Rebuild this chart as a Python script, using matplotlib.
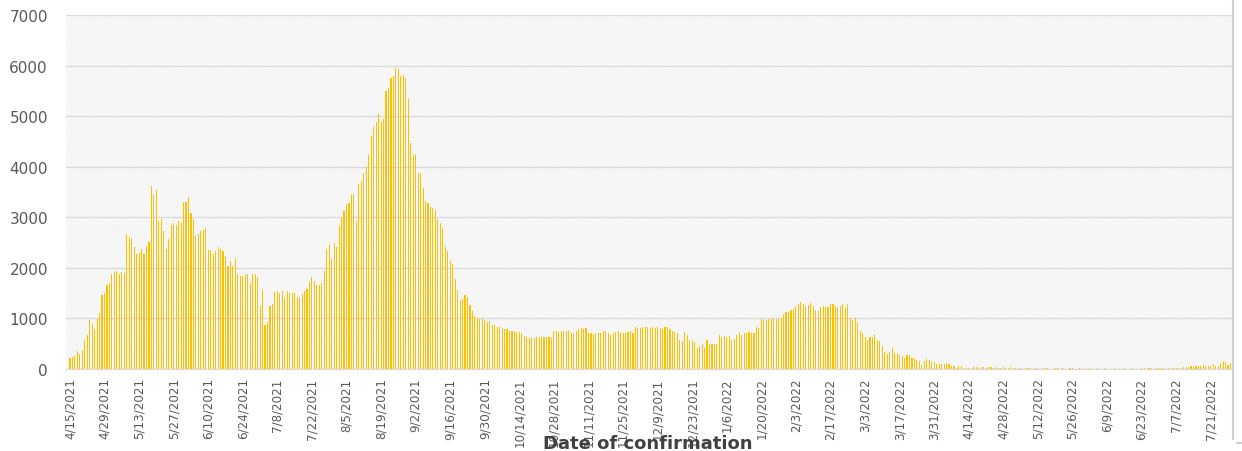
import matplotlib.pyplot as plt
import matplotlib.lines as mlines
import numpy as np
import pandas as pd

# daily confirmed cases, one value per day starting at start_date
start_date = '2021-04-15'

cases_apr_jul_2021 = [
    210, 230, 260, 355, 300, 380, 570, 680, 960, 890,
    790, 990, 1100, 1460, 1510, 1660, 1710, 1880, 1910, 1930,
    1875, 1910, 1890, 2660, 2620, 2570, 2420, 2270, 2290, 2380,
    2270, 2430, 2510, 3620, 3450, 3530, 2930, 2960, 2730, 2370,
    2580, 2840, 2880, 2840, 2920, 2890, 3300, 3300, 3410, 3090,
    2960, 2630, 2670, 2730, 2750, 2790, 2360, 2360, 2270, 2340,
    2420, 2370, 2340, 2240, 2040, 2130, 2040, 2180, 1875, 1840,
    1830, 1855, 1880, 1710, 1870, 1870, 1810, 1250, 1570, 870,
    920, 1250, 1280, 1530, 1550, 1510, 1550, 1410, 1540, 1500,
]

cases_jul_oct_2021 = [
    1500, 1510, 1430, 1410, 1480, 1540, 1590, 1720, 1810, 1740,
    1670, 1660, 1700, 1940, 2370, 2460, 2170, 2500, 2420, 2820,
    2990, 3120, 3260, 3290, 3450, 3470, 2930, 3650, 3720, 3870,
    3990, 4240, 4610, 4790, 4890, 5050, 4890, 4950, 5490, 5550,
    5760, 5800, 5950, 5940, 5800, 5820, 5760, 5340, 4470, 4240,
    4250, 3880, 3870, 3570, 3330, 3280, 3210, 3180, 3140, 2960,
    2880, 2790, 2420, 2340, 2140, 2070, 1780, 1570, 1370, 1390,
    1460, 1430, 1260, 1140, 1040, 1000, 990, 990, 970, 930,
    950,
]

cases_oct_2021_jan_2022 = [
    870, 870, 840, 840, 810, 790,
    790, 750, 750, 750, 740, 740, 710, 660, 640, 620,
    610, 620, 630, 630, 630, 630, 630, 630, 620, 750,
    750, 740, 760, 760, 760, 780, 720, 720, 750, 790,
    820, 790, 820, 720, 710, 700, 720, 720, 720, 750,
    750, 710, 680, 720, 740, 750, 720, 710, 720, 740,
    750, 720, 830, 820, 820, 830, 830, 830, 820, 830,
    820, 830, 820, 790, 830, 830, 790, 760, 740, 710,
    570, 550, 740, 680, 580, 580, 540, 410, 460, 490,
    420, 580, 500, 490, 500, 490, 680,
]

cases_jan_apr_2022 = [
    630, 660, 640, 660, 570, 590, 680, 710, 680, 720,
    710, 740, 720, 720, 840, 820, 990, 970, 960, 990,
    990, 990, 990, 990, 1000, 1090, 1120, 1130, 1160, 1180,
    1240, 1280, 1330, 1280, 1250, 1260, 1300, 1250, 1170, 1140,
    1220, 1250, 1220, 1220, 1280, 1280, 1240, 1200, 1250, 1280,
    1210, 1290, 1000, 970, 1000, 920, 750, 720, 630, 570,
    630, 640, 670, 580, 550, 460, 340, 300, 330, 420,
    320, 290, 280, 250, 220, 280, 280, 220, 220, 170,
    160, 80, 160, 200, 170, 140, 130, 90, 90, 105,
    90, 120, 90, 50, 50, 25, 50, 50, 25, 25,
    15, 25, 40, 40, 25, 40,
]

cases_apr_jul_2022 = [
    30, 20, 35, 45, 25, 30, 20, 15, 40, 25, 20, 30, 15, 20,
    10, 15, 8, 12, 20, 10, 6, 14, 10, 8,
    12, 18, 10, 6, 9, 12, 15, 8, 10, 7,
    5, 10, 12, 8, 6, 10, 14, 9, 7, 11,
    8, 6, 10, 5, 8, 12, 7, 9, 6, 10,
    8, 5, 7, 10, 6, 9, 12, 8, 5, 7,
    10, 12, 9, 15, 11, 8, 14, 10, 12, 16,
    9, 13, 18, 15,
    20, 15, 25, 30, 40, 35, 50, 45, 60, 55, 50, 70, 60, 65, 50,
    90, 65, 55, 110, 160, 145, 80, 120,
]

cases = (cases_apr_jul_2021 + cases_jul_oct_2021 + cases_oct_2021_jan_2022
         + cases_jan_apr_2022 + cases_apr_jul_2022)
dates = pd.date_range(start_date, periods=len(cases), freq='D')
tick_every = 14

grey = '#595959'
plt.rcParams['font.family'] = ['DejaVu Sans']
plt.rcParams['hatch.linewidth'] = 0.35

fig = plt.figure(figsize=(12.42, 4.52), dpi=100)
ax = fig.add_axes([66 / 1242, 82 / 452, 1166 / 1242, 354 / 452])

# hatched plot area like the excel chart
ax.patch.set_facecolor('white')
ax.patch.set_edgecolor('#e2e2e2')
ax.patch.set_hatch('\\' * 14)
ax.patch.set_linewidth(0)

x = np.arange(len(cases))
ax.bar(x, cases, width=0.45, color='#FFC000', zorder=3)

ax.set_ylim(0, 7000)
ax.set_yticks(np.arange(0, 7001, 1000))
ax.set_xlim(-1.6, len(cases) - 0.4)
ticks = x[::tick_every]
ax.set_xticks(ticks)
ax.set_xticklabels([f'{d.month}/{d.day}/{d.year}' for d in dates[::tick_every]],
                   rotation=90, fontsize=8.6, color=grey)
ax.tick_params(axis='y', length=0, pad=13, labelsize=11, labelcolor=grey)
ax.tick_params(axis='x', length=0, pad=6)
ax.yaxis.grid(True, color='#dadada', linewidth=1.0, zorder=1)
ax.set_axisbelow(True)

for side in ['top', 'right', 'left']:
    ax.spines[side].set_visible(False)
ax.spines['bottom'].set_color('#d9d9d9')

fig.text(648 / 1242, 1 - 444 / 452, 'Date of confirmation', ha='center', va='center',
         fontsize=13, fontweight='bold', color='#404040')

# chart frame edge at the right
fig.add_artist(mlines.Line2D([1233 / 1242, 1233 / 1242], [1 - 440 / 452, 1],
                             color='#d0d0d0', linewidth=1.5))
fig.add_artist(mlines.Line2D([1237 / 1242, 1242 / 1242], [1 - 444 / 452, 1 - 444 / 452],
                             color='#d0d0d0', linewidth=1.5))

plt.savefig('out.png', dpi=100)
